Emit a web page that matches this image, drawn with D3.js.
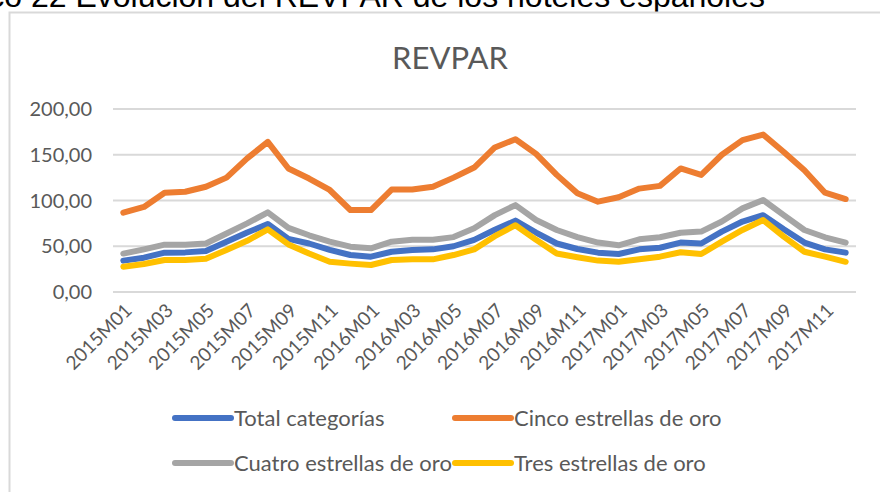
<!DOCTYPE html>
<html>
    <head>
        <meta charset="utf-8">
        <title>REVPAR</title>
        <script src="https://cdn.jsdelivr.net/npm/d3@7"></script>
        <style>
            body { margin: 0; background: #fff; }
            text { font-family: Lato, "Open Sans", sans-serif; fill: #595959; }
        </style>
    </head>
    <body>
        <script type="text/javascript">
            // months 2015M01 .. 2017M12
            var months = [
                "2015M01","2015M02","2015M03","2015M04","2015M05","2015M06","2015M07","2015M08","2015M09","2015M10","2015M11","2015M12",
                "2016M01","2016M02","2016M03","2016M04","2016M05","2016M06","2016M07","2016M08","2016M09","2016M10","2016M11","2016M12",
                "2017M01","2017M02","2017M03","2017M04","2017M05","2017M06","2017M07","2017M08","2017M09","2017M10","2017M11","2017M12"
            ];
            var total = [34.3,37.5,43,43.3,44.8,55,65,74.3,58,53,46,40.4, 38.6,44,46,46.6,50,57,68,78,65,53,47,43, 41.5,46.6,48.4,54,53,66,77,84,68.5,54,46.6,43];
            var cinco = [86.7,93,108.5,109.6,115,125,146,164,135,124,111.5,89.6, 89.6,112,112,115,125,136,158,167,151,128,108,98.7, 103.5,113,116,135,128,150,166,172,153,133,108.5,101.6];
            var cuatro = [42,46.6,51.7,51.7,53,64,75,87,70,62,55,49.5, 47.7,55,57,57,60,69.6,84,95,78.7,67.8,60,54, 51,57.6,59.8,64.8,66,77,91.4,100.5,84,67.8,59.8,54];
            var tres = [27.7,30.6,35,35,36.4,46,56,68.5,52,42,33,31, 29.5,35,35.7,35.7,40.4,46.6,61,73,57,42,38,34.3, 33,35.7,38.6,43.4,41.5,55,67.8,78.7,60.5,44,38.6,33];
            var yTicks = [0, 50, 100, 150, 200];

            var series = [
                {name: "Total categorías", values: total, color: "#4472C4"},
                {name: "Cinco estrellas de oro", values: cinco, color: "#ED7D31"},
                {name: "Cuatro estrellas de oro", values: cuatro, color: "#A5A5A5"},
                {name: "Tres estrellas de oro", values: tres, color: "#FFC000"}
            ];

            var w = 880, h = 492;
            var svg = d3.select("body").append("svg")
                .attr("width", w)
                .attr("height", h);

            // caption, cut off at the top of the screenshot like in the source
            svg.append("text")
                .attr("x", 765).attr("y", 7)
                .attr("text-anchor", "end")
                .style("font-family", "'Liberation Sans', Arial, sans-serif")
                .style("font-size", "32px")
                .style("fill", "#000")
                .text("Gráfico 22 Evolución del REVPAR de los hoteles españoles");

            // chart frame
            svg.append("rect")
                .attr("x", 9.5).attr("y", 12.5)
                .attr("width", 900).attr("height", 500)
                .attr("fill", "#fff")
                .attr("stroke", "#D9D9D9")
                .attr("stroke-width", 2);

            svg.append("text")
                .attr("x", 450).attr("y", 69)
                .attr("text-anchor", "middle")
                .style("font-size", "31px")
                .text("REVPAR");

            var x = d3.scaleBand().domain(months).range([113, 856]);
            var y = d3.scaleLinear().domain([0, 200]).range([292, 109]);
            var cx = function(m) { return x(m) + x.bandwidth() / 2; };

            // gridlines
            svg.append("g").selectAll("line")
                .data(yTicks)
                .enter().append("line")
                    .attr("x1", 113).attr("x2", 856)
                    .attr("y1", function(d) { return y(d); })
                    .attr("y2", function(d) { return y(d); })
                    .attr("stroke", "#D9D9D9")
                    .attr("stroke-width", 2);

            svg.append("g").selectAll("text")
                .data(yTicks)
                .enter().append("text")
                    .attr("x", 92)
                    .attr("y", function(d) { return y(d); })
                    .attr("dy", "0.35em")
                    .attr("text-anchor", "end")
                    .style("font-size", "20px")
                    .text(function(d) { return d3.format(".2f")(d).replace(".", ","); });

            // x labels, every other month
            svg.append("g").selectAll("text")
                .data(months.filter(function(m, i) { return i % 2 === 0; }))
                .enter().append("text")
                    .attr("transform", function(m) { return "translate(" + (cx(m) + 5) + ",307) rotate(-45)"; })
                    .attr("dy", "0.35em")
                    .attr("text-anchor", "end")
                    .style("font-size", "19px")
                    .text(function(m) { return m; });

            var line = d3.line()
                .x(function(d, i) { return cx(months[i]); })
                .y(function(d) { return y(d); });

            svg.append("g").selectAll("path")
                .data(series)
                .enter().append("path")
                    .attr("d", function(s) { return line(s.values); })
                    .attr("fill", "none")
                    .attr("stroke", function(s) { return s.color; })
                    .attr("stroke-width", 6)
                    .attr("stroke-linejoin", "round")
                    .attr("stroke-linecap", "round");

            // legend
            var legPos = [[175, 418], [455, 418], [175, 463], [455, 463]];
            var leg = svg.append("g").selectAll("g")
                .data(series)
                .enter().append("g")
                    .attr("transform", function(s, i) { return "translate(" + legPos[i][0] + "," + legPos[i][1] + ")"; });
            leg.append("line")
                .attr("x1", 0).attr("x2", 56)
                .attr("stroke", function(s) { return s.color; })
                .attr("stroke-width", 6)
                .attr("stroke-linecap", "round");
            leg.append("text")
                .attr("x", 59)
                .attr("dy", "0.35em")
                .style("font-size", "22px")
                .text(function(s) { return s.name; });
        </script>
    </body>
</html>
